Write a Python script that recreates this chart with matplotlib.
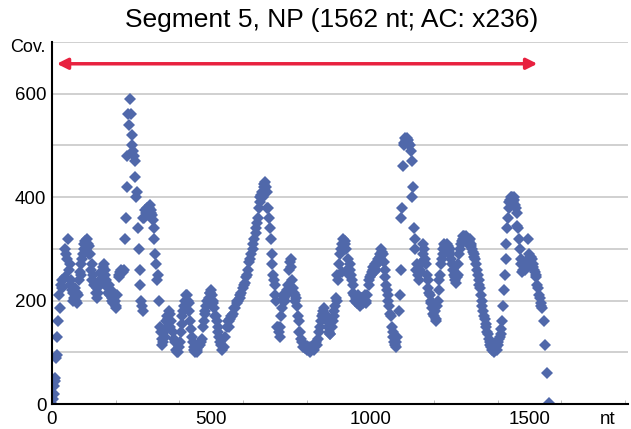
import matplotlib.pyplot as plt
import numpy as np

plt.rcParams['font.family'] = ['Liberation Sans', 'DejaVu Sans']

# coverage, every 5 nt
nt_main = np.arange(0, 1565, 5)
cov_main = [
    0, 20, 45, 95, 160, 185, 225, 240, 245, 290,
    320, 270, 240, 215, 205, 200, 215, 240, 250, 280,
    300, 315, 320, 305, 290, 270, 250, 235, 225, 215,
    230, 255, 265, 260, 240, 225, 230, 220, 205, 195,
    190, 210, 245, 255, 258, 260, 320, 420, 560, 590,
    520, 490, 470, 400, 340, 260, 200, 180, 360, 370,
    375, 380, 375, 365, 340, 290, 240, 200, 150, 125,
    120, 130, 150, 165, 175, 160, 140, 120, 105, 100,
    110, 140, 170, 190, 200, 210, 195, 160, 130, 110,
    100, 100, 110, 115, 125, 150, 175, 190, 200, 215,
    220, 200, 185, 170, 150, 130, 115, 105, 110, 130,
    150, 160, 165, 170, 175, 185, 195, 200, 205, 215,
    225, 235, 245, 260, 275, 290, 310, 320, 330, 350,
    380, 400, 410, 420, 430, 410, 380, 340, 290, 250,
    230, 200, 150, 130, 170, 200, 205, 210, 215, 260,
    280, 240, 215, 200, 190, 160, 140, 120, 110, 108,
    105, 110, 110, 105, 110, 115, 120, 125, 140, 160,
    175, 185, 170, 160, 140, 135, 150, 170, 190, 200,
    240, 290, 310, 320, 315, 300, 280, 260, 250, 230,
    210, 205, 200, 195, 200, 205, 200, 195, 210, 230,
    245, 255, 260, 270, 275, 280, 285, 300, 290, 260,
    230, 210, 190, 170, 140, 120, 110, 130, 180, 260,
    380, 500, 515, 515, 510, 500, 470, 420, 320, 260,
    250, 255, 270, 290, 300, 270, 240, 215, 200, 185,
    170, 160, 190, 220, 250, 280, 300, 305, 310, 305,
    300, 280, 260, 245, 235, 250, 290, 310, 320, 325,
    320, 318, 315, 310, 300, 290, 280, 260, 240, 225,
    200, 180, 165, 150, 135, 120, 110, 105, 100, 110,
    120, 125, 135, 160, 220, 280, 340, 380, 395, 400,
    395, 385, 370, 340, 300, 270, 260, 265, 275, 280,
    290, 285, 270, 260, 250, 230, 210, 195, 185, 160,
    115, 60, 2,
]

# second band of points (scatter around the main trace)
nt_extra = [
    3, 6, 8, 12, 17, 22, 27, 32, 42, 47, 52, 57, 62, 67, 72, 77, 82, 87, 92, 97,
    102, 107, 112, 117, 122, 127, 132, 137, 142, 152, 157, 162, 167, 172, 177, 182, 187, 192, 197, 202,
    212, 217, 222, 232, 237, 242, 247, 252, 257, 262, 267, 272, 277, 282, 287, 292, 297, 302, 307, 312,
    317, 322, 327, 332, 342, 347, 352, 357, 362, 367, 372, 382, 392, 402, 407, 412, 417, 422, 427, 432,
    437, 442, 447, 457, 467, 477, 482, 487, 492, 497, 502, 507, 512, 517, 522, 527, 552, 557, 562, 572,
    582, 592, 602, 612, 622, 632, 642, 647, 652, 657, 662, 667, 672, 677, 682, 687, 692, 697, 702, 707,
    712, 717, 722, 727, 732, 737, 742, 747, 752, 757, 762, 767, 772, 777, 782, 802, 812, 822, 832, 842,
    847, 852, 857, 862, 867, 872, 882, 887, 892, 897, 902, 907, 912, 917, 922, 927, 932, 937, 942, 947,
    952, 957, 962, 967, 972, 977, 982, 987, 997, 1002, 1007, 1012, 1017, 1022, 1027, 1032, 1037, 1042, 1047, 1052,
    1057, 1062, 1067, 1072, 1077, 1082, 1092, 1097, 1102, 1107, 1112, 1117, 1122, 1127, 1132, 1137, 1142, 1147, 1152, 1157,
    1162, 1167, 1172, 1177, 1182, 1187, 1192, 1197, 1202, 1207, 1212, 1217, 1222, 1227, 1232, 1237, 1242, 1247, 1252, 1257,
    1262, 1267, 1272, 1277, 1282, 1287, 1292, 1297, 1302, 1307, 1312, 1317, 1322, 1327, 1332, 1337, 1342, 1347, 1352, 1357,
    1362, 1367, 1372, 1377, 1382, 1387, 1392, 1397, 1402, 1407, 1412, 1417, 1422, 1427, 1432, 1437, 1442, 1447, 1452, 1457,
    1462, 1467, 1472, 1477, 1482, 1487, 1492, 1497, 1502, 1507, 1512, 1517, 1522, 1527, 1532, 1537,
]
cov_extra = [
    10, 35, 50, 90, 130, 210, 230, 240, 300, 280, 260, 230, 220, 200, 225, 195, 210, 255, 270, 290,
    310, 300, 310, 290, 260, 240, 230, 215, 205, 240, 250, 270, 250, 230, 215, 210, 200, 195, 200, 185,
    250, 260, 255, 360, 480, 540, 560, 500, 480, 440, 410, 300, 230, 190, 360, 375, 380, 370, 385, 370,
    355, 320, 270, 250, 140, 115, 140, 160, 170, 180, 150, 125, 100, 120, 155, 180, 200, 210, 200, 180,
    145, 120, 105, 105, 120, 160, 180, 200, 205, 215, 210, 195, 170, 160, 140, 120, 160, 150, 170, 185,
    200, 210, 230, 250, 280, 300, 340, 360, 390, 405, 400, 425, 420, 380, 360, 320, 270, 240, 210, 150,
    140, 150, 185, 210, 200, 220, 230, 275, 265, 225, 210, 205, 170, 140, 125, 112, 100, 105, 115, 150,
    170, 180, 175, 165, 150, 135, 160, 180, 205, 250, 270, 300, 255, 300, 310, 260, 250, 270, 240, 215,
    200, 195, 210, 190, 205, 195, 210, 200, 240, 250, 265, 255, 260, 270, 275, 290, 295, 275, 245, 220,
    200, 175, 150, 130, 115, 120, 210, 360, 460, 505, 510, 505, 500, 490, 400, 340, 300, 270, 240, 260,
    275, 310, 280, 250, 225, 210, 195, 175, 180, 165, 200, 240, 270, 290, 310, 295, 300, 295, 290, 270,
    250, 240, 245, 270, 300, 315, 325, 315, 325, 310, 320, 305, 295, 285, 270, 250, 230, 210, 190, 170,
    155, 140, 125, 115, 105, 115, 110, 105, 115, 130, 145, 190, 250, 310, 360, 390, 400, 390, 400, 380,
    345, 320, 280, 255, 270, 260, 270, 320, 275, 280, 265, 255, 245, 225, 205, 190,
]

dot_color = '#5068aa'
arrow_color = '#e8213f'

fig = plt.figure(figsize=(6.31, 4.29), dpi=100)
ax = fig.add_axes([0.0824, 0.058, 0.913, 0.844])

ax.plot(nt_extra, cov_extra, 'D', color=dot_color, ms=6, mew=0, zorder=3)
ax.plot(nt_main, cov_main, 'D', color=dot_color, ms=6, mew=0, zorder=3)

ax.set_xlim(0, 1810)
ax.set_ylim(0, 700)
ax.set_yticks([0, 200, 400, 600])
ax.set_yticks(np.arange(100, 701, 100), minor=True)
ax.set_xticks([0, 500, 1000, 1500])
ax.set_xticks(np.arange(0, 1801, 200), minor=True)
ax.grid(axis='y', which='both', color='#c8c8c8', lw=1.2, zorder=0)
ax.tick_params(axis='y', which='both', length=0, pad=4, labelsize=13.5)
ax.tick_params(axis='x', which='major', length=0, pad=5, labelsize=13.5)
ax.tick_params(axis='x', which='minor', length=3, direction='in', color='#b0b0b0')
for lab in ax.get_xticklabels():
    lab.set_x(lab.get_position()[0])
for s in ['top', 'right']:
    ax.spines[s].set_visible(False)
for s in ['left', 'bottom']:
    ax.spines[s].set_linewidth(1.5)
    ax.spines[s].set_zorder(4)

# region arrow
ax.annotate('', xy=(15, 658), xytext=(1525, 658),
            arrowprops=dict(arrowstyle='<|-|>', color=arrow_color, lw=2.5,
                            mutation_scale=16, shrinkA=0, shrinkB=0))

fig.text(0.525, 0.953, 'Segment 5, NP (1562 nt; AC: x236)', ha='center', va='center', fontsize=19)
fig.text(0.016, 0.89, 'Cov.', ha='left', va='center', fontsize=13)
fig.text(0.95, 0.022, 'nt', ha='left', va='center', fontsize=13.5)

fig.savefig('out.png', dpi=100)
